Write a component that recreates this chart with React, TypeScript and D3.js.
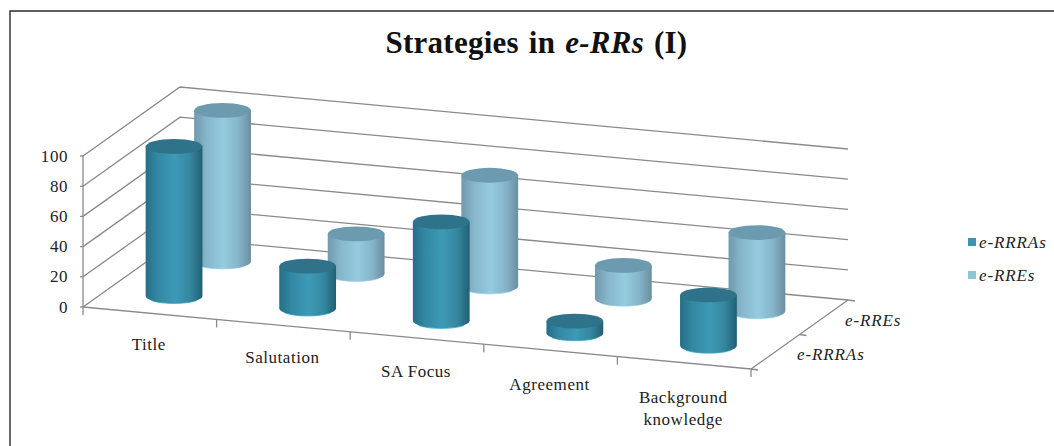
import React from "react";
import * as d3 from "d3";

const categories = ["Title", "Salutation", "SA Focus", "Agreement", "Background knowledge"];
const seriesNames = ["e-RRRAs", "e-RREs"];
const rrraValues = [99, 28, 65.5, 8, 33.5];
const rreValues = [100, 26.5, 73.5, 22, 52];
const valueTicks = [0, 20, 40, 60, 80, 100];

const W = 1054;
const H = 446;
const FLOOR_FRONT_LEFT = { x: 83, y: 307 };
const FRONT_RUN = { x: 668, y: 62 };
const DEPTH_RUN = { x: 97, y: -69 };
const RX = 28.4;
const RY = 7.4;
const GRID = "#8a8a8a";

const catScale = d3.scaleBand<string>().domain(categories).range([0, 1]);
const seriesScale = d3.scaleBand<string>().domain(seriesNames).range([0, 1]);
const heightScale = d3.scaleLinear().domain([0, 100]).range([0, 151]);

// Oblique projection: u along the front edge, v into the depth, value upward.
const project = (u: number, v: number, value: number) => ({
  x: FLOOR_FRONT_LEFT.x + u * FRONT_RUN.x + v * DEPTH_RUN.x,
  y: FLOOR_FRONT_LEFT.y + u * FRONT_RUN.y + v * DEPTH_RUN.y - heightScale(value),
});

const linePath = d3.line<{ x: number; y: number }>().x((d) => d.x).y((d) => d.y);

const palette = [
  { id: "bodyDark", stops: ["#256f87", "#3388a3", "#3d9ab7", "#35879f", "#215f74"], top: "#2e7389", rim: "#5fc0d8" },
  { id: "bodyLight", stops: ["#7199ac", "#86b6ca", "#95cbe1", "#86b5c9", "#6a8ea0"], top: "#6c9aae", rim: "#b5e2f0" },
];

function Cylinder({ cat, series, value, tone }: { cat: string; series: string; value: number; tone: number }) {
  const u = (catScale(cat) as number) + catScale.bandwidth() / 2;
  const v = (seriesScale(series) as number) + seriesScale.bandwidth() / 2;
  const base = project(u, v, 0);
  const top = project(u, v, value);
  const p = palette[tone];
  const body = `M${base.x - RX},${top.y} L${base.x - RX},${base.y} A${RX},${RY} 0 0 0 ${base.x + RX},${base.y} L${base.x + RX},${top.y} Z`;
  const rim = `M${base.x - RX * 0.8},${base.y + RY * 0.62} A${RX},${RY} 0 0 0 ${base.x + RX * 0.8},${base.y + RY * 0.62}`;
  return (
    <g>
      <path d={rim} fill="none" stroke={p.rim} strokeWidth={1.2} />
      <path d={body} fill={`url(#${p.id})`} />
      <ellipse cx={top.x} cy={top.y} rx={RX} ry={RY} fill={p.top} />
    </g>
  );
}

export default function App() {
  const serif = "'Liberation Serif', 'Times New Roman', serif";
  const gridPaths = valueTicks.map((t) =>
    linePath([project(0, 0, t), project(0, 1, t), project(1, 1, t)]) as string
  );
  const frontTicks = d3.range(0, categories.length + 1).map((i) => i / categories.length);
  const depthTicks = [0, 0.5, 1];
  return (
    <svg
      width={W}
      height={H}
      viewBox={`0 0 ${W} ${H}`}
      style={{ position: "fixed", left: 0, top: 0, background: "#fff", fontFamily: serif }}
    >
      <defs>
        {palette.map((p) => (
          <linearGradient key={p.id} id={p.id} x1="0" x2="1" y1="0" y2="0">
            {p.stops.map((c, i) => (
              <stop key={i} offset={[0, 0.22, 0.52, 0.78, 1][i]} stopColor={c} />
            ))}
          </linearGradient>
        ))}
      </defs>

      <path d={`M10,${H} L10,11 L${W},11`} fill="none" stroke="#2a2a2a" strokeWidth={1.4} />

      <text x={536.5} y={53} textAnchor="middle" fontSize={31} fontWeight="bold" fill="#111" letterSpacing={0.25} wordSpacing={2}>
        Strategies in <tspan fontStyle="italic">e-RRs</tspan> (I)
      </text>

      {/* walls and floor */}
      <g fill="none" stroke={GRID} strokeWidth={1.3}>
        {gridPaths.map((d, i) => (
          <path key={i} d={d} />
        ))}
        <path d={linePath([project(0, 0, 0), project(1, 0, 0), project(1, 1, 0)]) as string} />
        <path d={linePath([project(0, 0, 0), project(0, 0, 100)]) as string} />
        {valueTicks.map((t) => {
          const p = project(0, 0, t);
          return <line key={t} x1={p.x - 3} y1={p.y} x2={p.x} y2={p.y} />;
        })}
        {frontTicks.map((u) => {
          const p = project(u, 0, 0);
          return <line key={u} x1={p.x} y1={p.y} x2={p.x} y2={p.y + 8} />;
        })}
        {depthTicks.map((v) => {
          const p = project(1, v, 0);
          return <line key={v} x1={p.x} y1={p.y} x2={p.x + 7} y2={p.y + 1} />;
        })}
      </g>

      {/* back row first so the front row overlaps it */}
      {categories.map((c, i) => (
        <Cylinder key={c} cat={c} series={seriesNames[1]} value={rreValues[i]} tone={1} />
      ))}
      {categories.map((c, i) => (
        <Cylinder key={c} cat={c} series={seriesNames[0]} value={rrraValues[i]} tone={0} />
      ))}

      <g fontSize={17} fill="#222" letterSpacing={0.55}>
        {valueTicks.map((t) => {
          const p = project(0, 0, t);
          return (
            <text key={t} x={68} y={p.y + 5.5} textAnchor="end">
              {t}
            </text>
          );
        })}
        {categories.map((c) => {
          const u = (catScale(c) as number) + catScale.bandwidth() / 2;
          const p = project(u, 0, 0);
          const words = c === "Background knowledge" ? c.split(" ") : [c];
          return (
            <text key={c} y={p.y + 36 + 5 * u} textAnchor="middle">
              {words.map((w, i) => (
                <tspan key={w} x={p.x - 1} dy={i === 0 ? 0 : 22}>
                  {w}
                </tspan>
              ))}
            </text>
          );
        })}
        <g fontStyle="italic" letterSpacing={0.9}>
          <text x={797} y={360}>{seriesNames[0]}</text>
          <text x={845} y={326}>{seriesNames[1]}</text>
          <text x={979} y={248}>{seriesNames[0]}</text>
          <text x={979} y={281}>{seriesNames[1]}</text>
        </g>
      </g>

      <rect x={968} y={238} width={8} height={8} fill="#3a94b0" />
      <rect x={968} y={271} width={8} height={8} fill="#8cc5d8" />
    </svg>
  );
}
